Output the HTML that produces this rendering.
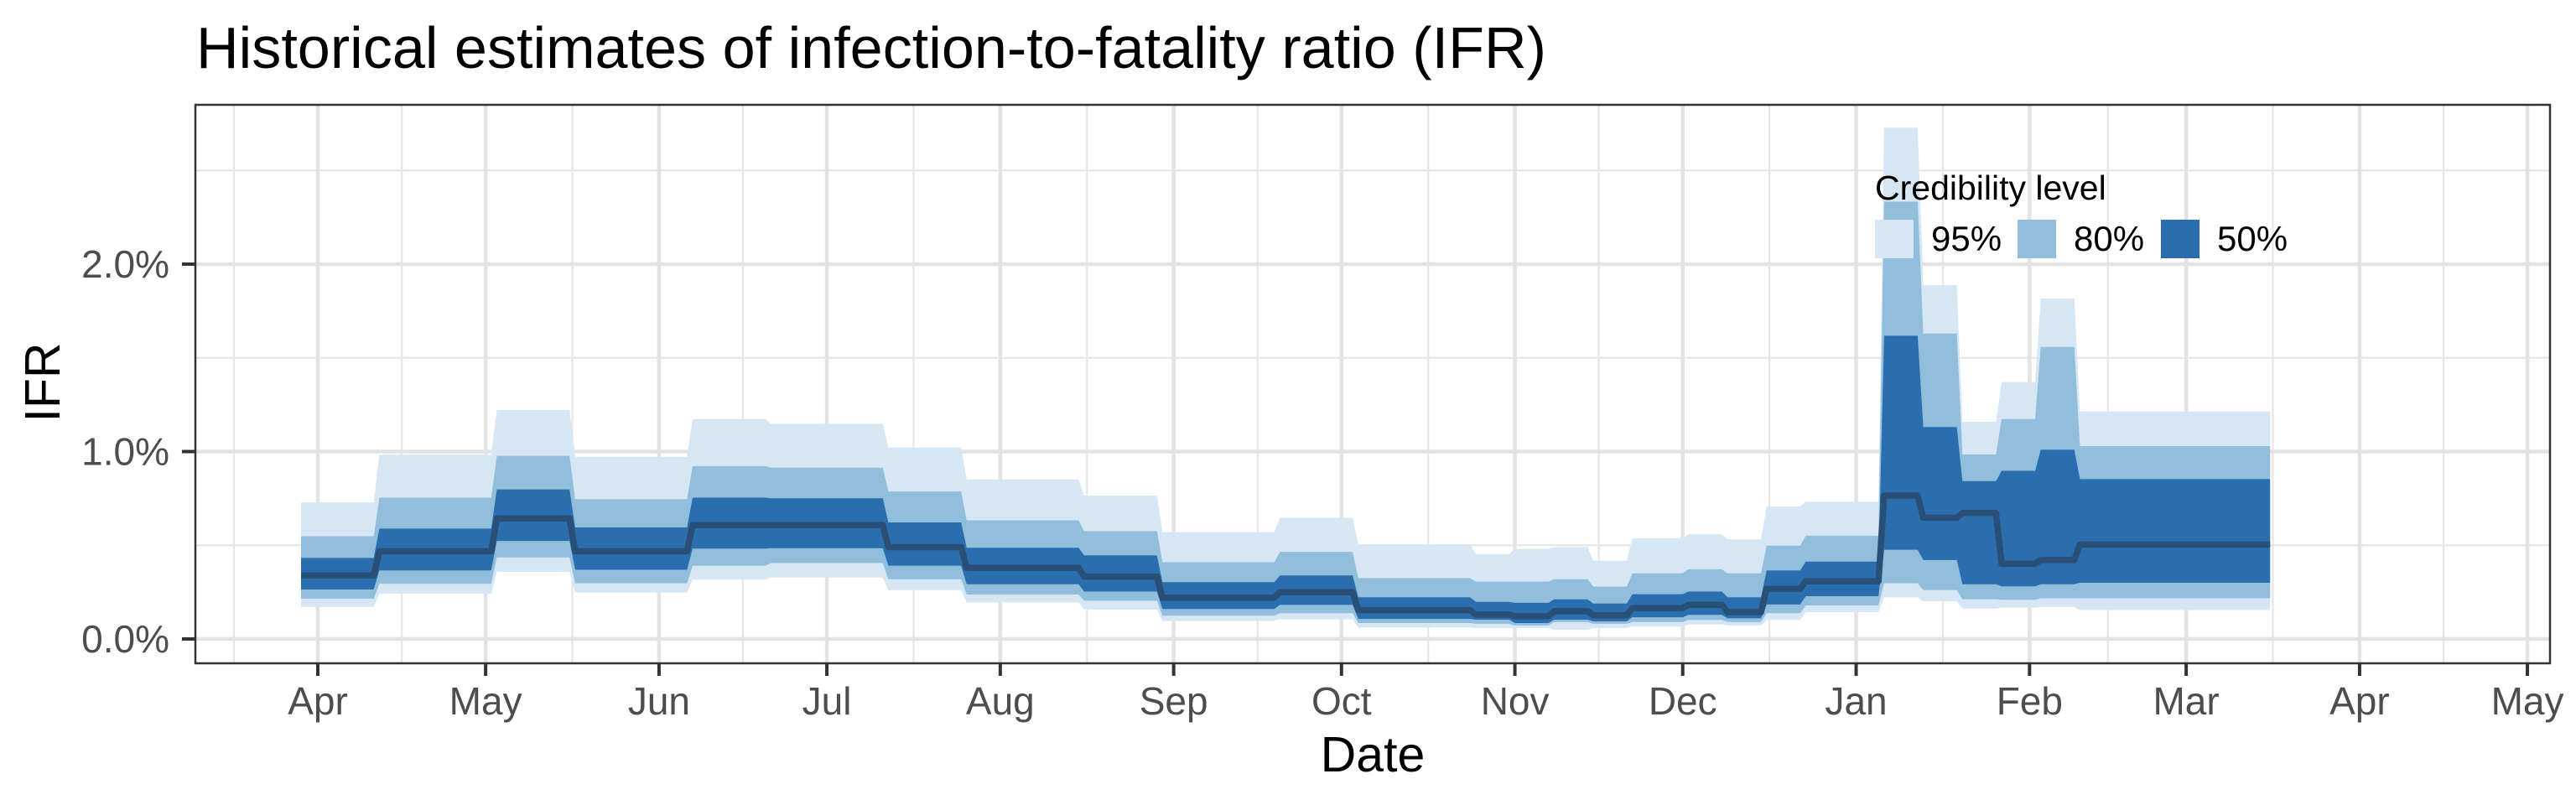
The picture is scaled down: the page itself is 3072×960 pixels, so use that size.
<!DOCTYPE html>
<html><head><meta charset="utf-8"><style>
html,body{margin:0;padding:0;background:#fff;}
svg{display:block;font-family:"Liberation Sans",Arial,sans-serif;}
</style></head><body>
<svg id="chart" width="3072" height="960" viewBox="0 0 3072 960" xmlns="http://www.w3.org/2000/svg">
<rect x="0" y="0" width="3072" height="960" fill="#fff"/>
<text x="234" y="81" font-size="70" fill="#000" textLength="1610" lengthAdjust="spacingAndGlyphs">Historical estimates of infection-to-fatality ratio (IFR)</text>
<g id="grid"></g>
<g id="bands"></g>
<g id="legend">
<text x="2236" y="238" font-size="41" fill="#000">Credibility level</text>
<rect x="2236" y="262" width="46" height="46" fill="#d6e6f4"/>
<text x="2303" y="299" font-size="42" fill="#000">95%</text>
<rect x="2406" y="262" width="46" height="46" fill="#91bfdb"/>
<text x="2473" y="299" font-size="42" fill="#000">80%</text>
<rect x="2577" y="262" width="46" height="46" fill="#2a6eb0"/>
<text x="2644" y="299" font-size="42" fill="#000">50%</text>
</g>
<rect x="233" y="125" width="2808" height="666" fill="none" stroke="#333" stroke-width="2.5"/>
<g id="axes"></g>
<text x="1637" y="920" font-size="59" text-anchor="middle" fill="#000">Date</text>
<text transform="translate(71,456) rotate(-90)" font-size="59" text-anchor="middle" fill="#000">IFR</text>
</svg>
<script>
// Data: day offsets from 2020-04-01, values in percent
const segStart = [-3,11,32,46,67,81,102,116,137,151,172,186,207,214,221,228,235,245,252,259,266,280,287,294,301,308,315];
const segEnd   = [10,31,45,66,80,101,115,136,150,171,185,206,213,220,227,234,244,251,258,265,279,286,293,300,307,314,349];
const lo95 = [0.171,0.242,0.358,0.248,0.317,0.328,0.261,0.195,0.157,0.096,0.105,0.061,0.058,0.058,0.049,0.058,0.066,0.077,0.072,0.102,0.143,0.223,0.201,0.162,0.168,0.171,0.154];
const lo80 = [0.215,0.295,0.435,0.297,0.391,0.405,0.319,0.237,0.204,0.124,0.138,0.085,0.081,0.072,0.090,0.081,0.091,0.102,0.091,0.138,0.179,0.297,0.261,0.212,0.209,0.217,0.217];
const lo50 = [0.264,0.366,0.523,0.369,0.482,0.484,0.391,0.292,0.253,0.160,0.182,0.107,0.103,0.085,0.103,0.094,0.116,0.129,0.110,0.184,0.228,0.476,0.421,0.292,0.281,0.292,0.300];
const med  = [0.339,0.468,0.644,0.468,0.608,0.608,0.490,0.380,0.333,0.220,0.250,0.154,0.130,0.121,0.148,0.126,0.165,0.182,0.143,0.267,0.308,0.765,0.647,0.672,0.402,0.421,0.504];
const hi50 = [0.432,0.589,0.798,0.595,0.754,0.751,0.622,0.487,0.446,0.303,0.339,0.223,0.198,0.193,0.211,0.189,0.239,0.253,0.223,0.366,0.413,1.618,1.131,0.842,0.897,1.010,0.853];
const hi80 = [0.548,0.754,0.977,0.746,0.922,0.914,0.787,0.633,0.575,0.410,0.465,0.325,0.306,0.306,0.319,0.279,0.350,0.372,0.350,0.498,0.551,2.334,1.630,0.985,1.173,1.558,1.029];
const hi95 = [0.729,0.983,1.222,0.972,1.173,1.148,1.021,0.851,0.765,0.570,0.647,0.503,0.454,0.481,0.490,0.418,0.537,0.559,0.531,0.707,0.732,2.728,1.888,1.159,1.371,1.816,1.214];
const yTicks = [0,1,2];
const yTickLabels = ["0.0%","1.0%","2.0%"];
const xTickDays = [0,30,61,91,122,153,183,214,244,275,306,334,365,395];
const xTickLabels = ["Apr","May","Jun","Jul","Aug","Sep","Oct","Nov","Dec","Jan","Feb","Mar","Apr","May"];

const NS="http://www.w3.org/2000/svg";
const X0=379, PXD=6.671, Y0=762, PXU=223.5;
const PL=233, PR=3041, PT=125, PB=791;
function xs(d){return X0+d*PXD;}
function ys(v){return Y0-v*PXU;}
function mk(tag,attrs,parent){const e=document.createElementNS(NS,tag);for(const k in attrs)e.setAttribute(k,attrs[k]);parent.appendChild(e);return e;}
const grid=document.getElementById('grid'), bands=document.getElementById('bands'), axes=document.getElementById('axes');

for(let i=0;i<yTicks.length;i++){
  const vals=[yTicks[i]+0.5];
  if(i===0) vals.push(yTicks[i]-0.5);
  vals.forEach(v=>{const y=ys(v); if(y>PT&&y<PB){
    const l=mk('line',{x1:PL,x2:PR,y1:y,y2:y,stroke:'#e6e6e6','stroke-width':2.2},grid);
    
    }});
}
const minors=[xTickDays[0]-15];
for(let i=0;i<xTickDays.length-1;i++) minors.push((xTickDays[i]+xTickDays[i+1])/2);
minors.forEach(d=>{const x=xs(d); if(x>PL&&x<PR){
  const l=mk('line',{x1:x,x2:x,y1:PT,y2:PB,stroke:'#e6e6e6','stroke-width':2.2},grid);
  
  }});
yTicks.forEach(v=>{const y=ys(v);
  const l=mk('line',{x1:PL,x2:PR,y1:y,y2:y,stroke:'#e3e3e3','stroke-width':4.5},grid);
  
  });
xTickDays.forEach(d=>{const x=xs(d);
  const l=mk('line',{x1:x,x2:x,y1:PT,y2:PB,stroke:'#e3e3e3','stroke-width':4.5},grid);
  
  });

function bandPath(lo,hi){
  let up=[],dn=[];
  for(let i=0;i<segStart.length;i++){
    up.push([xs(segStart[i]),ys(hi[i])],[xs(segEnd[i]),ys(hi[i])]);
    dn.push([xs(segStart[i]),ys(lo[i])],[xs(segEnd[i]),ys(lo[i])]);
  }
  const pts=up.concat(dn.reverse());
  return 'M'+pts.map(p=>p[0].toFixed(1)+','+p[1].toFixed(1)).join('L')+'Z';
}
const b95=mk('path',{d:bandPath(lo95,hi95),fill:'#d6e6f4'},bands);


const b80=mk('path',{d:bandPath(lo80,hi80),fill:'#91bfdb'},bands);


const b50=mk('path',{d:bandPath(lo50,hi50),fill:'#2a6eb0'},bands);


let mp=[];
for(let i=0;i<segStart.length;i++){mp.push([xs(segStart[i]),ys(med[i])],[xs(segEnd[i]),ys(med[i])]);}
const ml=mk('path',{d:'M'+mp.map(p=>p[0].toFixed(1)+','+p[1].toFixed(1)).join('L'),fill:'none',stroke:'#294f76','stroke-width':7.5,'stroke-linejoin':'round'},bands);



yTicks.forEach((v,i)=>{const y=ys(v);
  const t=mk('line',{x1:217,x2:PL,y1:y,y2:y,stroke:'#333','stroke-width':4},axes);
  
  
  const tx=mk('text',{x:202,y:y+16,'font-size':46,'text-anchor':'end',fill:'#4d4d4d'},axes);
  tx.textContent=yTickLabels[i];
  
  });
xTickDays.forEach((d,i)=>{const x=xs(d);
  const t=mk('line',{x1:x,x2:x,y1:PB,y2:806,stroke:'#333','stroke-width':4},axes);
  
  
  const tx=mk('text',{x:x,y:852,'font-size':46,'text-anchor':'middle',fill:'#4d4d4d'},axes);
  tx.textContent=xTickLabels[i];
  
  });
</script>
</body></html>
